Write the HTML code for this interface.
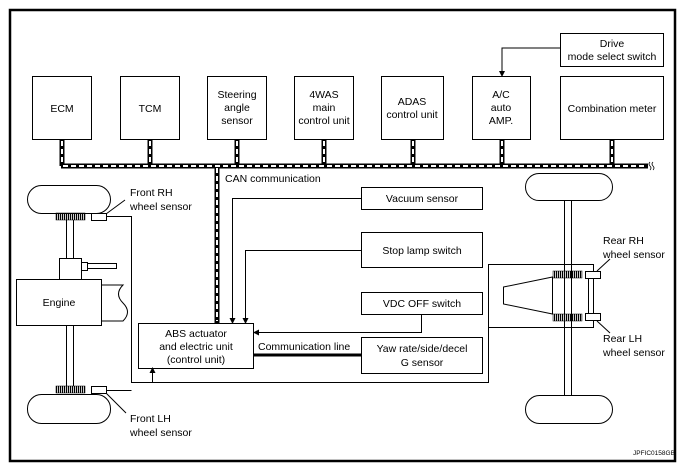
<!DOCTYPE html>
<html><head><meta charset="utf-8"><style>
html,body{margin:0;padding:0;background:#fff;}
svg{display:block;}
text{font-family:"Liberation Sans",Arial,sans-serif;font-size:10.5px;fill:#000;}
</style></head><body>
<svg width="686" height="471" viewBox="0 0 686 471" xmlns="http://www.w3.org/2000/svg">
<defs>
<marker id="ar" markerWidth="6" markerHeight="6" refX="5" refY="3" orient="auto" markerUnits="userSpaceOnUse"><path d="M0,0 L6,3 L0,6 z" fill="#000"/></marker>
<pattern id="teeth" width="2" height="8" patternUnits="userSpaceOnUse"><rect width="1.2" height="8" fill="#000"/></pattern>
</defs>
<rect x="10" y="10" width="665" height="451" fill="none" stroke="#000" stroke-width="2.5"/>
<g fill="#fff" stroke="#000" stroke-width="1">
<rect x="32.5" y="76.5" width="59" height="63"/>
<rect x="120.5" y="76.5" width="59" height="63"/>
<rect x="207.5" y="76.5" width="59" height="63"/>
<rect x="294.5" y="76.5" width="59" height="63"/>
<rect x="381.5" y="76.5" width="62" height="63"/>
<rect x="472.5" y="76.5" width="58" height="63"/>
<rect x="560.5" y="76.5" width="103" height="63"/>
<rect x="560.5" y="33.5" width="103" height="33"/>
</g>
<g font-size="10.5" text-anchor="middle">
<text x="62" y="112">ECM</text>
<text x="150" y="112">TCM</text>
<text x="237" y="98">Steering</text><text x="237" y="111">angle</text><text x="237" y="124">sensor</text>
<text x="324" y="98">4WAS</text><text x="324" y="111">main</text><text x="324" y="124">control unit</text>
<text x="412" y="105">ADAS</text><text x="412" y="118">control unit</text>
<text x="501" y="98">A/C</text><text x="501" y="111">auto</text><text x="501" y="124">AMP.</text>
<text x="612" y="112">Combination meter</text>
<text x="612" y="47">Drive</text><text x="612" y="60">mode select switch</text>
</g>
<polyline points="560,48 502,48 502,76" fill="none" stroke="#000" stroke-width="1" marker-end="url(#ar)"/>
<g fill="none">
<path d="M61,166 H648 M62,139 V166 M150,139 V166 M237,139 V166 M324,139 V166 M413,139 V166 M502,139 V166 M612,139 V166 M217,166 V323" stroke="#000" stroke-width="5"/>
<path d="M62,141 V164 M150,141 V164 M237,141 V164 M324,141 V164 M413,141 V164 M502,141 V164 M612,141 V164 M217,168 V321 M63,166 H647" stroke="#fff" stroke-width="2" stroke-dasharray="5 3"/>
<path d="M650,162 q-2,2 0,4 q2,2 0,4 M653,162 q-2,2 0,4 q2,2 0,4" stroke="#000" stroke-width="0.8"/>
</g>
<text x="225" y="182">CAN communication</text>
<rect x="138.5" y="323.5" width="115" height="45" fill="#fff" stroke="#000"/>
<g text-anchor="middle"><text x="196" y="337">ABS actuator</text><text x="196" y="350">and electric unit</text><text x="196" y="363">(control unit)</text></g>
<g fill="#fff" stroke="#000">
<rect x="361.5" y="187.5" width="121" height="22"/>
<rect x="361.5" y="232.5" width="121" height="35"/>
<rect x="361.5" y="292.5" width="121" height="22"/>
<rect x="361.5" y="337.5" width="121" height="36"/>
</g>
<g text-anchor="middle">
<text x="422" y="202">Vacuum sensor</text>
<text x="422" y="254">Stop lamp switch</text>
<text x="422" y="307">VDC OFF switch</text>
<text x="422" y="352">Yaw rate/side/decel</text><text x="422" y="366">G sensor</text>
</g>
<g fill="none" stroke="#000" stroke-width="1">
<polyline points="361,198.5 232.5,198.5 232.5,323" marker-end="url(#ar)"/>
<polyline points="361,250.5 245.5,250.5 245.5,323" marker-end="url(#ar)"/>
<polyline points="421.5,314 421.5,332.5 254,332.5" marker-end="url(#ar)"/>
<polyline points="106,216.5 131.5,216.5 131.5,382.5 488.5,382.5 488.5,264.5 593.5,264.5 593.5,327.5 488.5,327.5"/>
<polyline points="106,390.5 131.5,390.5"/>
<polyline points="152.5,382 152.5,368" marker-end="url(#ar)"/>
</g>
<line x1="254" y1="355" x2="361" y2="355" stroke="#000" stroke-width="3"/>
<text x="258" y="350">Communication line</text>
<g fill="#fff" stroke="#000" stroke-width="1">
<rect x="27.5" y="185.5" width="83" height="28" rx="14"/>
<rect x="27.5" y="394.5" width="83" height="29" rx="14"/>
<line x1="66.5" y1="220" x2="66.5" y2="386"/><line x1="73.5" y1="220" x2="73.5" y2="386"/>
<rect x="59.5" y="258.5" width="22" height="21"/>
<rect x="81.5" y="262.5" width="6" height="8"/>
<rect x="87.5" y="263.5" width="29" height="5"/>
<path d="M101,285 H123 c-6,6 -6,12 0,18 c6,6 6,12 0,18 H101"/>
<rect x="16.5" y="279.5" width="85" height="46"/>
<rect x="91.5" y="213.5" width="15" height="7"/>
<rect x="91.5" y="386.5" width="15" height="7"/>
<line x1="106" y1="214" x2="125" y2="200"/>
<line x1="106" y1="393" x2="126" y2="413"/>
</g>
<rect x="56" y="213" width="29" height="7" fill="url(#teeth)" stroke="#000" stroke-width="0.5"/>
<rect x="56" y="386" width="29" height="7" fill="url(#teeth)" stroke="#000" stroke-width="0.5"/>
<text x="59" y="306" text-anchor="middle">Engine</text>
<text x="130" y="196">Front RH</text><text x="130" y="210">wheel sensor</text>
<text x="130" y="422">Front LH</text><text x="130" y="436">wheel sensor</text>
<g fill="#fff" stroke="#000" stroke-width="1">
<rect x="525.5" y="173.5" width="87" height="27" rx="13.5"/>
<rect x="525.5" y="395.5" width="87" height="28" rx="14"/>
<line x1="564.5" y1="200" x2="564.5" y2="395"/><line x1="571.5" y1="200" x2="571.5" y2="395"/>
<polygon points="503.5,287 552.5,277 552.5,314 503.5,304"/>
<line x1="588.5" y1="278" x2="588.5" y2="314"/>
<rect x="585.5" y="271.5" width="15" height="7"/>
<rect x="585.5" y="313.5" width="15" height="7"/>
<line x1="597" y1="271" x2="610" y2="259"/>
<line x1="597" y1="321" x2="610" y2="333"/>
</g>
<rect x="553" y="271" width="29" height="7" fill="url(#teeth)" stroke="#000" stroke-width="0.5"/>
<rect x="553" y="314" width="29" height="7" fill="url(#teeth)" stroke="#000" stroke-width="0.5"/>
<text x="603" y="244">Rear RH</text><text x="603" y="258">wheel sensor</text>
<text x="603" y="342">Rear LH</text><text x="603" y="356">wheel sensor</text>
<text x="633" y="455" style="font-size:6.5px">JPFIC0158GB</text>
</svg>
</body></html>
